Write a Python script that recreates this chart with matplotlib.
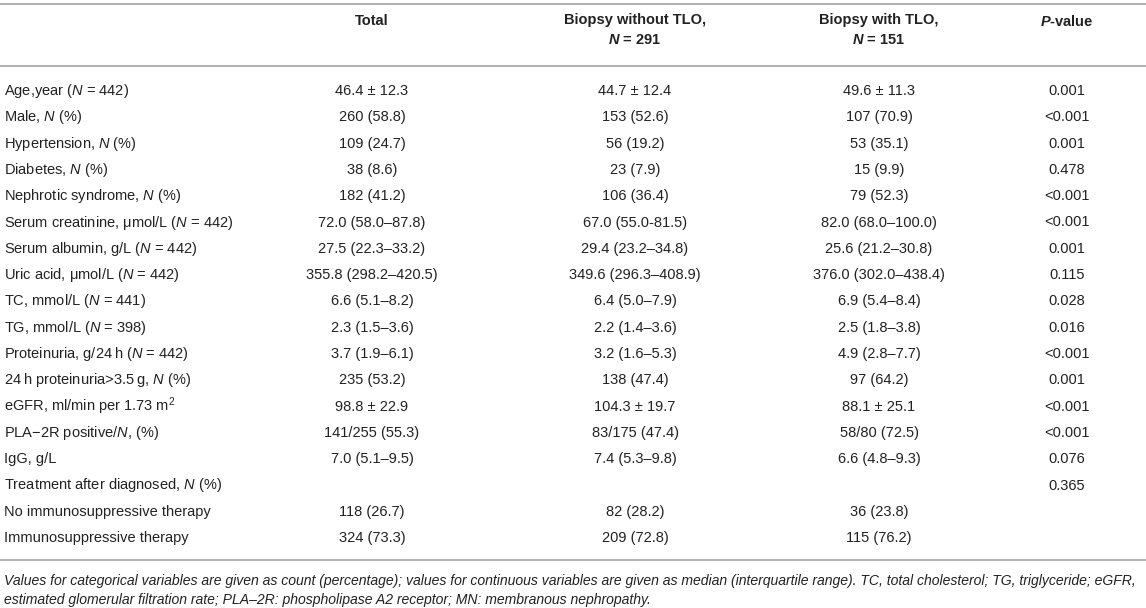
import matplotlib.pyplot as plt

plt.rcParams['font.family'] = ['Liberation Sans', 'DejaVu Sans']
plt.rcParams['mathtext.fontset'] = 'custom'
plt.rcParams['mathtext.rm'] = 'Liberation Sans'
plt.rcParams['mathtext.it'] = 'Liberation Sans:italic'
plt.rcParams['mathtext.bf'] = 'Liberation Sans:bold'
plt.rcParams['mathtext.bfit'] = 'Liberation Sans:bold:italic'

N = r'$\mathit{N}$'

header_total = "Total"
header_without = ["Biopsy without TLO,", r'$\mathbfit{N}$ = 291']
header_with = ["Biopsy with TLO,", r'$\mathbfit{N}$ = 151']
header_p = r'$\mathbfit{P}$-value'

labels = [
    "Age,year (" + N + " = 442)",
    "Male, " + N + " (%)",
    "Hypertension, " + N + " (%)",
    "Diabetes, " + N + " (%)",
    "Nephrotic syndrome, " + N + " (%)",
    "Serum creatinine, \u03bcmol/L (" + N + " = 442)",
    "Serum albumin, g/L (" + N + " = 442)",
    "Uric acid, \u03bcmol/L (" + N + " = 442)",
    "TC, mmol/L (" + N + " = 441)",
    "TG, mmol/L (" + N + " = 398)",
    "Proteinuria, g/24\u2009h (" + N + " = 442)",
    "24\u2009h proteinuria>3.5\u2009g, " + N + " (%)",
    r"eGFR, ml/min per 1.73 m$^{2}$",
    "PLA\u22122R positive/" + N + ", (%)",
    "IgG, g/L",
    "Treatment after diagnosed, " + N + " (%)",
    "No immunosuppressive therapy",
    "Immunosuppressive therapy",
]
total = ["46.4 \u00b1 12.3", "260 (58.8)", "109 (24.7)", "38 (8.6)", "182 (41.2)",
         "72.0 (58.0\u201387.8)", "27.5 (22.3\u201333.2)", "355.8 (298.2\u2013420.5)",
         "6.6 (5.1\u20138.2)", "2.3 (1.5\u20133.6)", "3.7 (1.9\u20136.1)", "235 (53.2)",
         "98.8 \u00b1 22.9", "141/255 (55.3)", "7.0 (5.1\u20139.5)", "",
         "118 (26.7)", "324 (73.3)"]
without_tlo = ["44.7 \u00b1 12.4", "153 (52.6)", "56 (19.2)", "23 (7.9)", "106 (36.4)",
               "67.0 (55.0-81.5)", "29.4 (23.2\u201334.8)", "349.6 (296.3\u2013408.9)",
               "6.4 (5.0\u20137.9)", "2.2 (1.4\u20133.6)", "3.2 (1.6\u20135.3)", "138 (47.4)",
               "104.3 \u00b1 19.7", "83/175 (47.4)", "7.4 (5.3\u20139.8)", "",
               "82 (28.2)", "209 (72.8)"]
with_tlo = ["49.6 \u00b1 11.3", "107 (70.9)", "53 (35.1)", "15 (9.9)", "79 (52.3)",
            "82.0 (68.0\u2013100.0)", "25.6 (21.2\u201330.8)", "376.0 (302.0\u2013438.4)",
            "6.9 (5.4\u20138.4)", "2.5 (1.8\u20133.8)", "4.9 (2.8\u20137.7)", "97 (64.2)",
            "88.1 \u00b1 25.1", "58/80 (72.5)", "6.6 (4.8\u20139.3)", "",
            "36 (23.8)", "115 (76.2)"]
p_values = ["0.001", "<0.001", "0.001", "0.478", "<0.001", "<0.001", "0.001", "0.115",
            "0.028", "0.016", "<0.001", "0.001", "<0.001", "<0.001", "0.076", "0.365",
            "", ""]

footnote = ["Values for categorical variables are given as count (percentage); values for continuous "
            "variables are given as median (interquartile range). TC, total cholesterol; TG, triglyceride; eGFR,",
            "estimated glomerular filtration rate; PLA\u20132R: phospholipase A2 receptor; MN: membranous nephropathy."]

W, H = 1146, 608
fig = plt.figure(figsize=(W / 100, H / 100), dpi=100)
ax = fig.add_axes([0, 0, 1, 1])
ax.set_xlim(0, W)
ax.set_ylim(H, 0)
ax.axis('off')

txt = '#222222'
line_c = '#9a9a9a'
fs = 10.5
fs_note = 10.1

# column positions (pixels)
x_lab, x_tot, x_wo, x_w, x_p = 4, 372, 635, 879, 1067
row0, dy = 91, 26.3

for yl in (4, 66, 560):
    ax.plot([0, W], [yl, yl], color=line_c, lw=1.1, solid_capstyle='butt')

ax.text(x_tot, 21, header_total, ha='center', va='center', fontsize=fs, fontweight='bold', color=txt)
ax.text(x_wo, 20, header_without[0], ha='center', va='center', fontsize=fs, fontweight='bold', color=txt)
ax.text(x_wo, 40, header_without[1], ha='center', va='center', fontsize=fs, fontweight='bold', color=txt)
ax.text(x_w, 20, header_with[0], ha='center', va='center', fontsize=fs, fontweight='bold', color=txt)
ax.text(x_w, 40, header_with[1], ha='center', va='center', fontsize=fs, fontweight='bold', color=txt)
ax.text(x_p, 21, header_p, ha='center', va='center', fontsize=fs, fontweight='bold', color=txt)

for i, lab in enumerate(labels):
    y = row0 + i * dy
    ax.text(x_lab, y, lab, ha='left', va='center', fontsize=fs, color=txt)
    ax.text(x_tot, y, total[i], ha='center', va='center', fontsize=fs, color=txt)
    ax.text(x_wo, y, without_tlo[i], ha='center', va='center', fontsize=fs, color=txt)
    ax.text(x_w, y, with_tlo[i], ha='center', va='center', fontsize=fs, color=txt)
    ax.text(x_p, y, p_values[i], ha='center', va='center', fontsize=fs, color=txt)

ax.text(x_lab, 581, footnote[0], ha='left', va='center', fontsize=fs_note, style='italic', color=txt)
ax.text(x_lab, 600, footnote[1], ha='left', va='center', fontsize=fs_note, style='italic', color=txt)

fig.savefig('out.png', dpi=100)
